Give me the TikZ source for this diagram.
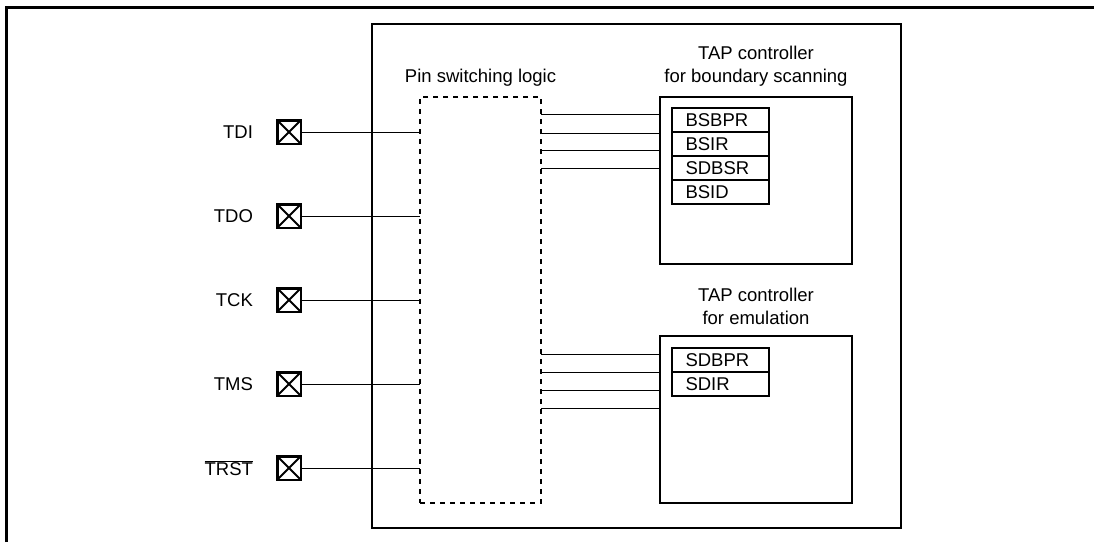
\documentclass[tikz,border=0pt]{standalone}
\usepackage{fontspec}
\setmainfont{Liberation Sans}
\usetikzlibrary{positioning}

\begin{document}
\begin{tikzpicture}[x=1pt, y=-1pt,
        every node/.style={font=\fontsize{18.5}{23}\selectfont, outer sep=0pt},
        heading/.style={align=center},
        padbox/.style={draw, line width=2.5pt, minimum size=23.5pt, inner sep=0pt,
            path picture={\draw[line width=2pt] (path picture bounding box.north west) -- (path picture bounding box.south east)
                (path picture bounding box.south west) -- (path picture bounding box.north east);}},
        chipbox/.style={draw, line width=2pt, minimum width=529pt, minimum height=504pt},
        switchbox/.style={draw, line width=2pt, dash pattern=on 5pt off 5pt, minimum width=121pt, minimum height=406pt},
        tapbox/.style={draw, line width=2pt, minimum width=192pt, minimum height=167pt},
        reg/.style={draw, line width=2pt, minimum height=24pt, text width=70pt, inner xsep=13.5pt, inner ysep=0pt, align=left},
        wire/.style={line width=1pt}
    ]
        \useasboundingbox (0,0) rectangle (1094,542);

        % Frame and chip
        \draw[line width=3pt] (6,542) |- (1094,7);
        \node[chipbox] (chip) at (636.5,276) {};

        % Pin switching logic
        \node[switchbox] (switch) at (480.5,300) {};
        \node[heading, above=7pt of switch] {Pin switching logic};

        % TAP controller for boundary scanning
        \node[tapbox] (tapbs) at (756,180.5) {};
        \node[heading, above=7pt of tapbs] {TAP controller\\for boundary scanning};
        \node[reg, below right=11pt and 12pt of tapbs.north west] (bsbpr) {BSBPR};
        \node[reg, below=0pt of bsbpr] (bsir) {BSIR};
        \node[reg, below=0pt of bsir] (sdbsr) {SDBSR};
        \node[reg, below=0pt of sdbsr] (bsid) {BSID};

        % TAP controller for emulation
        \node[tapbox] (tapemu) at (756,419.5) {};
        \node[heading, above=8pt of tapemu] {TAP controller\\for emulation};
        \node[reg, below right=12pt and 12pt of tapemu.north west] (sdbpr) {SDBPR};
        \node[reg, below=0pt of sdbpr] (sdir) {SDIR};

        % Pins
        \node[padbox] (tdi) at (289,132) {};
        \node[left=21pt of tdi] {TDI};

        \node[padbox] (tdo) at (289,216) {};
        \node[left=21pt of tdo] {TDO};

        \node[padbox] (tck) at (289,300) {};
        \node[left=21pt of tck] {TCK};

        \node[padbox] (tms) at (289,384) {};
        \node[left=21pt of tms] {TMS};

        \node[padbox] (trst) at (289,468) {};
        \node[left=21pt of trst] {$\overline{\hbox{TRST}}$};

        % Pins to switching logic
        \draw[wire] (tdi.east) -- (tdi -| switch.west);
        \draw[wire] (tdo.east) -- (tdo -| switch.west);
        \draw[wire] (tck.east) -- (tck -| switch.west);
        \draw[wire] (tms.east) -- (tms -| switch.west);
        \draw[wire] (trst.east) -- (trst -| switch.west);

        % Switching logic to TAP controllers
        \draw[wire] (switch.east |- 0,114) -- (tapbs.west |- 0,114)
            (switch.east |- 0,133) -- (tapbs.west |- 0,133)
            (switch.east |- 0,150) -- (tapbs.west |- 0,150)
            (switch.east |- 0,168) -- (tapbs.west |- 0,168);
        \draw[wire] (switch.east |- 0,354) -- (tapemu.west |- 0,354)
            (switch.east |- 0,372) -- (tapemu.west |- 0,372)
            (switch.east |- 0,390) -- (tapemu.west |- 0,390)
            (switch.east |- 0,408) -- (tapemu.west |- 0,408);
    \end{tikzpicture}
\end{document}
